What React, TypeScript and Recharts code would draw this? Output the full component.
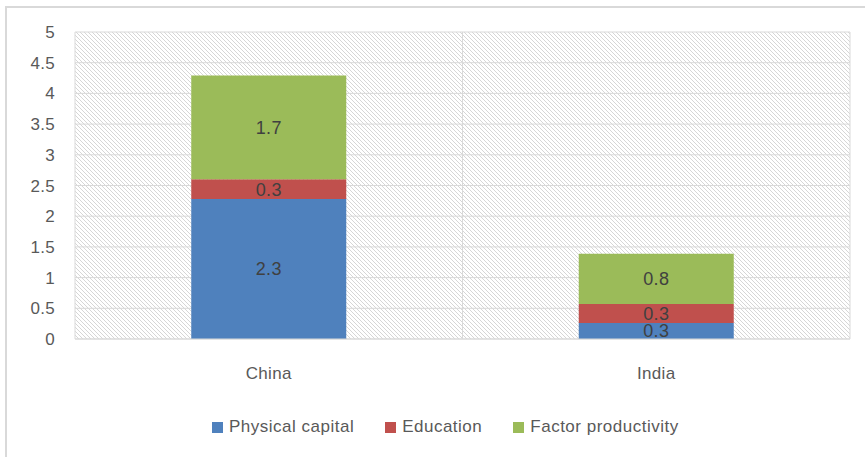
import React from 'react';
import { BarChart, Bar, XAxis, YAxis, CartesianGrid, LabelList } from 'recharts';

const categories = ['China', 'India'];
const physicalCapital = [2.28, 0.26];
const education = [0.32, 0.31];
const factorProductivity = [1.69, 0.82];
const yTicks = [0, 0.5, 1, 1.5, 2, 2.5, 3, 3.5, 4, 4.5, 5];

const seriesDefs = [
  { key: 'physical', name: 'Physical capital', color: '#4f81bd', values: physicalCapital },
  { key: 'education', name: 'Education', color: '#c0504d', values: education },
  { key: 'factor', name: 'Factor productivity', color: '#9bbb59', values: factorProductivity },
];

const data = categories.map((c, i) => {
  const row: Record<string, any> = { name: c };
  seriesDefs.forEach((s) => {
    row[s.key] = s.values[i];
  });
  return row;
});

const FONT = '"Liberation Sans", Arial, sans-serif';
const fmt = (v: any) => Number(v).toFixed(1);

export default function App() {
  return (
    <div
      style={{
        position: 'fixed',
        left: 0,
        top: 0,
        width: 865,
        height: 457,
        overflow: 'hidden',
        background: '#ffffff',
        fontFamily: FONT,
      }}
    >
      <svg width={0} height={0} style={{ position: 'absolute' }}>
        <defs>
          <pattern id="hatch" patternUnits="userSpaceOnUse" width={4} height={4}>
            <rect x={0} y={0} width={4} height={4} fill="#ffffff" />
            <path d="M0,0 L4,4 M-1,3 L1,5 M3,-1 L5,1" stroke="#d6d6d6" strokeWidth={1} />
          </pattern>
        </defs>
      </svg>
      <div
        style={{
          position: 'absolute',
          left: 5,
          top: 6,
          width: 900,
          height: 500,
          border: '2px solid #d9d9d9',
        }}
      />
      <div style={{ position: 'absolute', left: 0, top: 0 }}>
        <BarChart
          width={865}
          height={457}
          data={data}
          margin={{ top: 32, right: 15, left: 0, bottom: 88 }}
          barCategoryGap="30%"
        >
          <CartesianGrid
            stroke="#d9d9d9"
            strokeWidth={1}
            fill="url(#hatch)"
            fillOpacity={1}
            verticalCoordinatesGenerator={(props: any) => {
              const o = props.offset;
              return [o.left, o.left + o.width / 2, o.left + o.width];
            }}
          />
          <XAxis
            dataKey="name"
            axisLine={{ stroke: '#d9d9d9' }}
            tickLine={false}
            tickMargin={22}
            height={30}
            tick={{ fill: '#595959', fontSize: 17, fontFamily: FONT, letterSpacing: 0.3 }}
          />
          <YAxis
            domain={[0, 5]}
            ticks={yTicks}
            width={75}
            axisLine={false}
            tickLine={false}
            tickMargin={14}
            interval={0}
            tick={{ fill: '#595959', fontSize: 17, fontFamily: FONT, letterSpacing: 0.3 }}
          />
          {seriesDefs.map((s) => (
            <Bar key={s.key} dataKey={s.key} name={s.name} stackId="a" fill={s.color} isAnimationActive={false}>
              <LabelList
                dataKey={s.key}
                position="center"
                formatter={fmt}
                fill="#404040"
                fontSize={18}
                fontFamily={FONT}
                letterSpacing={0.3}
              />
            </Bar>
          ))}
        </BarChart>
      </div>
      <div
        style={{
          position: 'absolute',
          left: 212,
          top: 417,
          display: 'flex',
          alignItems: 'center',
          gap: 31,
          fontSize: 17,
          letterSpacing: 0.5,
          color: '#595959',
          whiteSpace: 'nowrap',
        }}
      >
        {seriesDefs.map((s) => (
          <div key={s.key} style={{ display: 'flex', alignItems: 'center' }}>
            <span style={{ display: 'inline-block', width: 11, height: 11, background: s.color, marginRight: 6 }} />
            <span>{s.name}</span>
          </div>
        ))}
      </div>
    </div>
  );
}
